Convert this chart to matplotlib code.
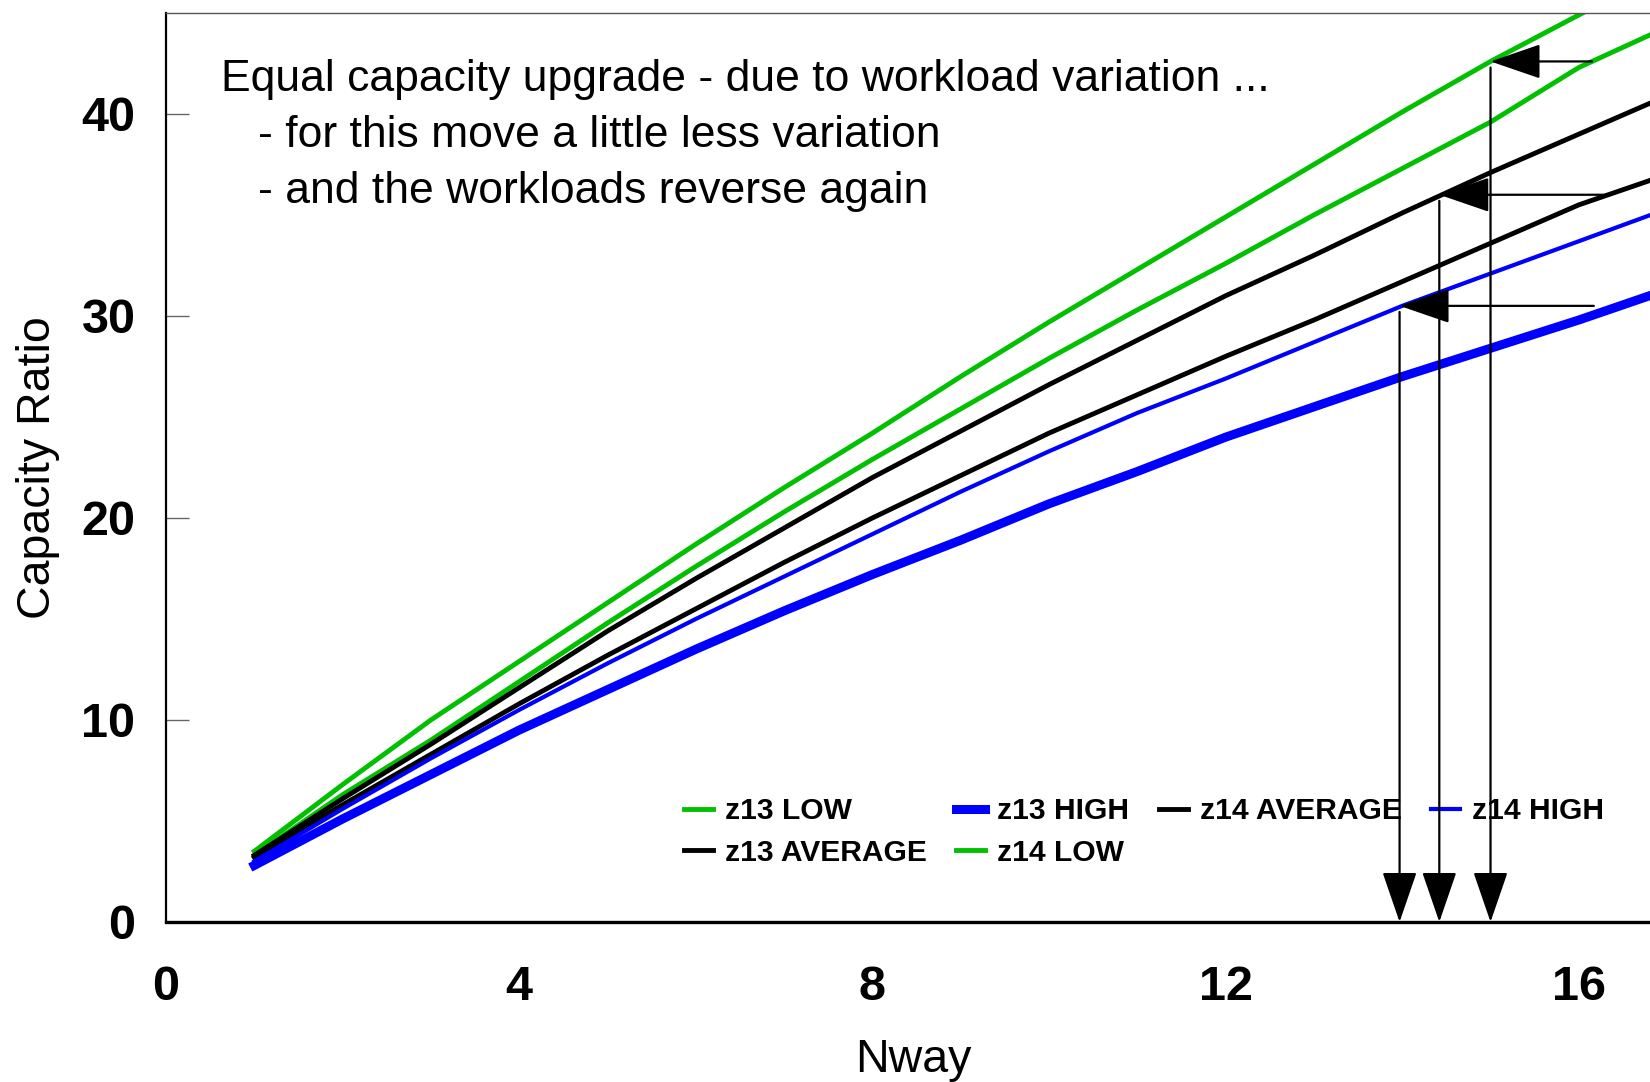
import matplotlib
matplotlib.use('Agg')
import matplotlib.pyplot as plt

plt.rcParams['font.family'] = ['Liberation Sans', 'DejaVu Sans']

# capacity ratio by N-way, 1..17
nway = list(range(1, 18))
z13_low = [3.3, 6.3, 9.0, 11.9, 14.8, 17.6, 20.3, 22.9, 25.4, 27.9, 30.3, 32.6,
           35.0, 37.3, 39.6, 42.3, 44.3]
z13_avg = [3.2, 5.8, 8.3, 10.8, 13.2, 15.5, 17.8, 20.0, 22.1, 24.2, 26.1, 28.0,
           29.8, 31.7, 33.6, 35.5, 37.0]
z13_high = [2.8, 5.1, 7.3, 9.5, 11.5, 13.5, 15.4, 17.2, 18.9, 20.7, 22.3, 24.0,
            25.5, 27.0, 28.4, 29.8, 31.3]
z14_low = [3.5, 6.8, 10.0, 12.9, 15.8, 18.7, 21.5, 24.2, 27.0, 29.7, 32.3, 34.9,
           37.5, 40.1, 42.6, 44.9, 47.2]
z14_avg = [3.3, 6.1, 8.8, 11.6, 14.4, 17.0, 19.5, 22.0, 24.3, 26.6, 28.8, 31.0,
           33.0, 35.1, 37.1, 39.0, 40.9]
z14_high = [3.0, 5.6, 8.1, 10.5, 12.8, 15.0, 17.1, 19.2, 21.3, 23.3, 25.2, 26.9,
            28.7, 30.5, 32.1, 33.7, 35.3]

# equal capacity points: z14 N-way giving the z13 16-way capacity
eq_nway = [15.0, 14.42, 13.97]
eq_ratio = [42.6, 36.0, 30.5]
eq_from = [16.15, 16.28, 16.17]

green = '#00c000'
blue = '#0000ff'

fig = plt.figure(figsize=(16.5, 10.82), dpi=100)
ax = fig.add_axes([0.1006, 0.1479, 0.9055, 0.8405])

ax.plot(nway, z13_low, color=green, lw=3.5, label='z13 LOW')
ax.plot(nway, z13_avg, color='black', lw=3.5, label='z13 AVERAGE')
ax.plot(nway, z13_high, color=blue, lw=6.5, label='z13 HIGH')
ax.plot(nway, z14_low, color=green, lw=3.5, label='z14 LOW')
ax.plot(nway, z14_avg, color='black', lw=3.5, label='z14 AVERAGE')
ax.plot(nway, z14_high, color=blue, lw=3.0, label='z14 HIGH')

head = '-|>,head_length=3.2,head_width=1.1'
for xn, yv, xs in zip(eq_nway, eq_ratio, eq_from):
    ax.annotate('', xy=(xn, yv), xytext=(xs, yv),
                arrowprops=dict(arrowstyle=head, color='black', lw=1.6,
                                shrinkA=0, shrinkB=0),
                zorder=6)
    ax.annotate('', xy=(xn, 0), xytext=(xn, yv - 0.3),
                arrowprops=dict(arrowstyle=head, color='black', lw=1.6,
                                shrinkA=0, shrinkB=0),
                zorder=6)

note_size = 32
ax.text(0.0368, 0.9141, 'Equal capacity upgrade - due to workload variation ...',
        transform=ax.transAxes, fontsize=note_size, va='baseline', ha='left')
ax.text(0.0616, 0.8519, '- for this move a little less variation',
        transform=ax.transAxes, fontsize=note_size, va='baseline', ha='left')
ax.text(0.0616, 0.7903, '- and the workloads reverse again',
        transform=ax.transAxes, fontsize=note_size, va='baseline', ha='left')

ax.set_xlim(0, 16.92)
ax.set_ylim(0, 45.02)
ax.set_xticks([0, 4, 8, 12, 16])
ax.set_yticks([0, 10, 20, 30, 40])
for lab in ax.get_xticklabels() + ax.get_yticklabels():
    lab.set_fontweight('bold')
ax.tick_params(axis='y', direction='in', length=16.6, width=1.0,
               color='#666666', labelsize=35, pad=22)
ax.tick_params(axis='x', length=0, labelsize=35, pad=31)

ax.spines['top'].set_color('#555555')
ax.spines['top'].set_linewidth(1.0)
ax.spines['right'].set_visible(False)
ax.spines['left'].set_linewidth(1.6)
ax.spines['bottom'].set_linewidth(2.4)

ax.set_xlabel('Nway', fontsize=33.5)
ax.set_ylabel('Capacity Ratio', fontsize=33.5)
ax.xaxis.set_label_coords(0.5, -0.128)
ax.yaxis.set_label_coords(-0.071, 0.5)

leg = ax.legend(ncol=4, loc='upper left',
                bbox_to_anchor=(684 / 1650, 1 - 797 / 1082),
                bbox_transform=fig.transFigure, frameon=False, borderpad=0,
                borderaxespad=0, handlelength=0.97, handletextpad=0.40,
                columnspacing=0.98, labelspacing=0.46,
                prop={'size': 21.6, 'weight': 'bold'})
leg.set_zorder(4)

fig.savefig('out.png', dpi=100)
